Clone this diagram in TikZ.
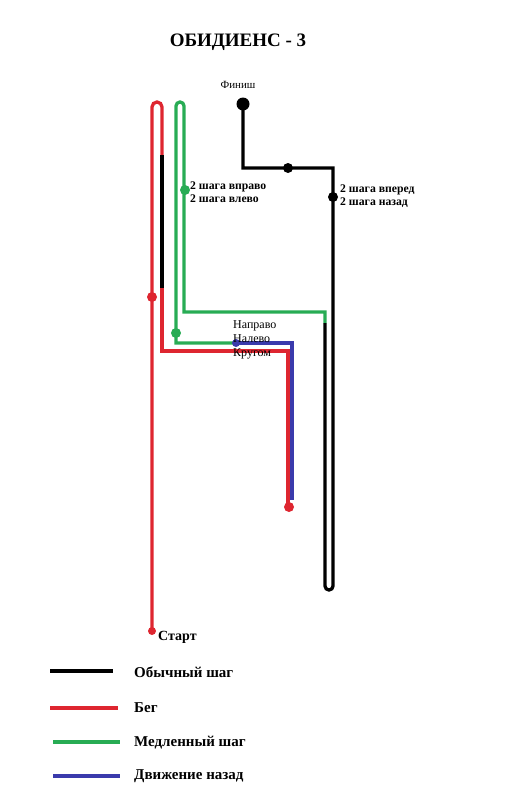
\documentclass[tikz,border=0pt]{standalone}
\usepackage{fontspec}
\setmainfont{Liberation Serif}
\usetikzlibrary{positioning, calc}

\definecolor{runred}{RGB}{222,38,48}
\definecolor{slowgreen}{RGB}{40,172,84}
\definecolor{backblue}{RGB}{58,58,172}

\begin{document}
\begin{tikzpicture}[
  x=1pt, y=-1pt,
  % Estilos de trazos
  route/.style={line width=3.3pt, line cap=butt, line join=miter},
  walk/.style={route, draw=black},
  run/.style={route, draw=runred},
  slow/.style={route, draw=slowgreen},
  back/.style={route, draw=backblue},
  % Estilos de puntos y textos
  dot/.style={circle, inner sep=0pt, minimum size=#1},
  dot/.default=10pt,
  lbl/.style={anchor=west, inner sep=0pt, align=left, font=\fontsize{11.7}{13}\selectfont\bfseries},
  plain/.style={anchor=west, inner sep=0pt, align=left, font=\fontsize{12}{14}\selectfont},
  legend/.style={anchor=west, inner sep=0pt, font=\fontsize{15}{17}\selectfont\bfseries}
]
  \useasboundingbox (0,0) rectangle (519,800);

  % ==========================================
  % TITLE
  % ==========================================
  \node[font=\fontsize{19}{22}\selectfont\bfseries] (title) at (238,42) {ОБИДИЕНС - 3};

  % ==========================================
  % ROUTE
  % ==========================================
  % Run from start, loop at top
  \draw[run] (152,631) [rounded corners=5pt] -- (152,102) -- (162,102) [sharp corners] -- (162,155);
  \draw[walk] (162,155) -- (162,288);
  \draw[run] (162,288) -- (162,351) -- (288,351) -- (288,507);

  % Moving back and turns
  \draw[back] (292,500) -- (292,343) -- (236,343);

  % Slow step with loop at top
  \draw[slow] (236,343) -- (176,343) [rounded corners=4pt] -- (176,102) -- (184,102) [sharp corners] -- (184,312) -- (325,312) -- (325,323);

  % Normal step to finish
  \draw[walk] (325,323) [rounded corners=4pt] -- (325,590) -- (333,590) [sharp corners] -- (333,168) -- (243,168) -- (243,104);

  % ==========================================
  % POINTS
  % ==========================================
  \node[dot=8pt, fill=runred] (start) at (152,631) {};
  \node[dot, fill=runred] (run_mid) at (152,297) {};
  \node[dot, fill=runred] (run_end) at (289,507) {};
  \node[dot=8pt, fill=backblue] (turns) at (236,343) {};
  \node[dot=10pt, fill=slowgreen] (side_steps) at (185,190) {};
  \node[dot=10pt, fill=slowgreen] (slow_mid) at (176,333) {};
  \node[dot=13pt, fill=black] (finish) at (243,104) {};
  \node[dot=10pt, fill=black] (walk_mid) at (288,168) {};
  \node[dot=10pt, fill=black] (fwd_steps) at (333,197) {};

  % ==========================================
  % LABELS
  % ==========================================
  \node[font=\fontsize{11}{12}\selectfont] (finish_txt) at (238,85) {Финиш};
  \node[lbl] (side_txt) at (190,192) {2 шага вправо\\2 шага влево};
  \node[lbl] (fwd_txt) at (340,196) {2 шага вперед\\2 шага назад};
  \node[plain] (turns_txt) at (233,340) {Направо\\Налево\\Кругом};
  \node[lbl, font=\fontsize{14}{16}\selectfont\bfseries] (start_txt) at (158,637) {Старт};

  % ==========================================
  % LEGEND
  % ==========================================
  \coordinate (lg1) at (50,671);
  \coordinate (lg2) at (50,708);
  \coordinate (lg3) at (53,742);
  \coordinate (lg4) at (53,776);
  \draw[walk] (lg1) -- ++(63,0);
  \draw[run] (lg2) -- ++(68,0);
  \draw[slow] (lg3) -- ++(67,0);
  \draw[back] (lg4) -- ++(67,0);
  \node[legend] (lg1_txt) at (134,672) {Обычный шаг};
  \node[legend] (lg2_txt) at (134,708) {Бег};
  \node[legend] (lg3_txt) at (134,743) {Медленный шаг};
  \node[legend] (lg4_txt) at (134,776) {Движение назад};

\end{tikzpicture}
\end{document}
